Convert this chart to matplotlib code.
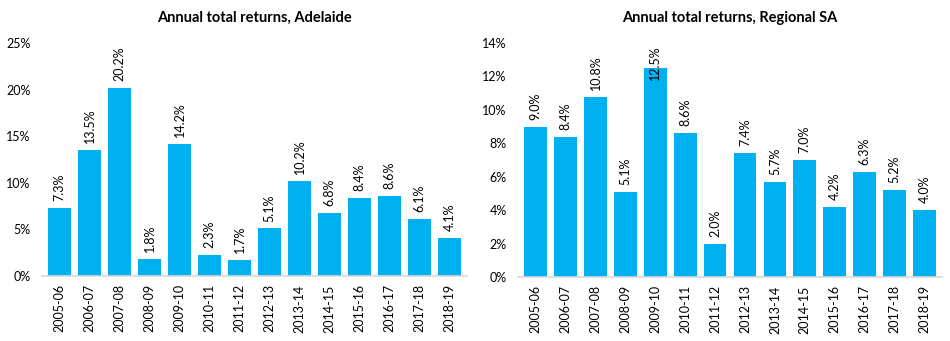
import matplotlib
matplotlib.use("Agg")
import matplotlib.pyplot as plt
import numpy as np

plt.rcParams['font.family'] = ['Lato', 'DejaVu Sans']

# Datos
years = ['2005-06', '2006-07', '2007-08', '2008-09', '2009-10', '2010-11', '2011-12',
         '2012-13', '2013-14', '2014-15', '2015-16', '2016-17', '2017-18', '2018-19']
adelaide = [7.3, 13.5, 20.2, 1.8, 14.2, 2.3, 1.7, 5.1, 10.2, 6.8, 8.4, 8.6, 6.1, 4.1]
regional_sa = [9.0, 8.4, 10.8, 5.1, 12.5, 8.6, 2.0, 7.4, 5.7, 7.0, 4.2, 6.3, 5.2, 4.0]

bar_color = '#00B0F0'

fig = plt.figure(figsize=(9.5, 3.41), dpi=100)
ax1 = fig.add_axes([0.044, 0.1906, 0.448, 0.683])
ax2 = fig.add_axes([0.545, 0.1877, 0.447, 0.686])


def dibujar(ax, valores, titulo, ymax, paso, limite_label):
    x = np.arange(len(years))
    ax.bar(x, valores, width=0.76, color=bar_color)
    ax.set_xlim(-0.6, len(years) - 0.4)
    ax.set_ylim(0, ymax)
    ax.set_yticks(np.arange(0, ymax + 0.01, paso))
    ax.set_yticklabels([f'{int(t)}%' for t in np.arange(0, ymax + 0.01, paso)])
    ax.set_xticks(x)
    ax.set_xticklabels(years, rotation=90)
    ax.tick_params(axis='both', length=0, labelsize=9, colors='#000000')
    ax.tick_params(axis='y', pad=8)
    ax.tick_params(axis='x', pad=6)
    for s in ['top', 'right', 'left']:
        ax.spines[s].set_visible(False)
    ax.spines['bottom'].set_color('#D9D9D9')
    ax.spines['bottom'].set_linewidth(1.2)
    for xi, v in zip(x, valores):
        if v > limite_label:
            ax.text(xi, ymax * 0.99, f'{v:.1f}%', rotation=90, ha='center', va='top', fontsize=9)
        else:
            ax.annotate(f'{v:.1f}%', (xi, v), xytext=(0, 5), textcoords='offset points',
                        rotation=90, ha='center', va='bottom', fontsize=9)
    ax.set_title(titulo, fontsize=10.5, fontweight='bold', pad=15)


dibujar(ax1, adelaide, 'Annual total returns, Adelaide', 25, 5, 22)
dibujar(ax2, regional_sa, 'Annual total returns, Regional SA', 14, 2, 12)

fig.savefig('out.png', dpi=100)
